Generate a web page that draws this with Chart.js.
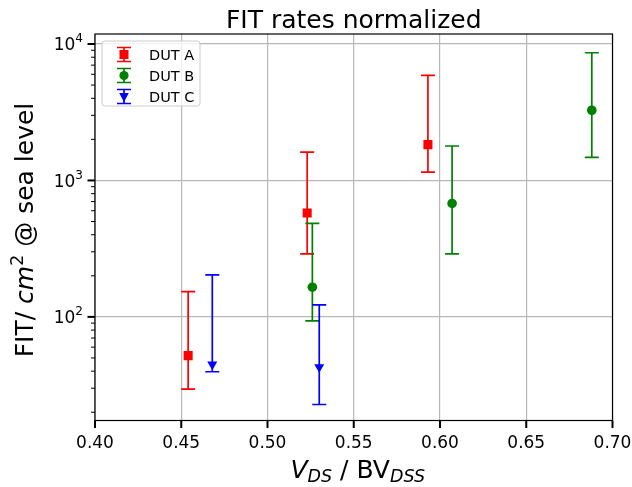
<!DOCTYPE html>
<html>
<head>
<meta charset="utf-8">
<script src="https://cdn.jsdelivr.net/npm/chart.js@4/dist/chart.umd.min.js"></script>
<style>
  html, body { margin: 0; padding: 0; background: #fff; }
  #wrap { width: 632px; height: 487px; position: relative; }
</style>
</head>
<body>
<div id="wrap"><canvas id="myChart" width="632" height="487"></canvas></div>
<script>
// data
const labels = ['DUT A', 'DUT B', 'DUT C'];
const colors = ['#ff0000', '#008000', '#0000ff'];

const xA = [0.454, 0.523, 0.593];
const yA = [52, 578, 1830];
const loA = [29.5, 290, 1150];
const hiA = [153, 1615, 5890];

const xB = [0.526, 0.607, 0.688];
const yB = [165, 678, 3270];
const loB = [93.5, 290, 1475];
const hiB = [485, 1788, 8630];

const xC = [0.468, 0.530];
const yC = [44.9, 42.9];
const loC = [39.6, 22.8];
const hiC = [203, 122.5];

const xTicks = [0.40, 0.45, 0.50, 0.55, 0.60, 0.65, 0.70];
const xTickLabels = ['0.40', '0.45', '0.50', '0.55', '0.60', '0.65', '0.70'];
const yMajor = [100, 1000, 10000];
const yExp = ['2', '3', '4'];

const FONT = '"DejaVu Sans", sans-serif';

function points(xs, ys) {
    return xs.map((x, i) => ({ x: x, y: ys[i] }));
}

// draw a list of text runs, each with its own font and vertical shift
function drawRuns(ctx, runs, x, y, align) {
    let total = 0;
    runs.forEach(r => { ctx.font = r.font; total += ctx.measureText(r.t).width; });
    let cx = align === 'center' ? x - total / 2 : (align === 'right' ? x - total : x);
    ctx.textAlign = 'left';
    ctx.textBaseline = 'alphabetic';
    runs.forEach(r => {
        ctx.font = r.font;
        ctx.fillText(r.t, cx, y + (r.dy || 0));
        cx += ctx.measureText(r.t).width;
    });
}

function drawMarker(ctx, style, x, y, color) {
    ctx.save();
    ctx.fillStyle = color;
    ctx.beginPath();
    if (style === 'rect') {
        ctx.rect(x - 4.5, y - 4.5, 9, 9);
    } else if (style === 'circle') {
        ctx.arc(x, y, 4.6, 0, Math.PI * 2);
    } else {
        ctx.moveTo(x - 4.8, y - 3.5);
        ctx.lineTo(x + 4.8, y - 3.5);
        ctx.lineTo(x, y + 5.5);
        ctx.closePath();
    }
    ctx.fill();
    ctx.restore();
}

const errLow = [loA, loB, loC];
const errHigh = [hiA, hiB, hiC];

const errorBars = {
    id: 'errorBars',
    beforeDatasetsDraw(chart) {
        const ctx = chart.ctx;
        const xs = chart.scales.x, ys = chart.scales.y;
        ctx.save();
        chart.data.datasets.forEach((ds, i) => {
            ctx.strokeStyle = colors[i];
            ctx.lineWidth = 1.7;
            ds.data.forEach((p, j) => {
                const px = xs.getPixelForValue(p.x);
                const top = ys.getPixelForValue(errHigh[i][j]);
                const bot = ys.getPixelForValue(errLow[i][j]);
                ctx.beginPath();
                ctx.moveTo(px, top); ctx.lineTo(px, bot);
                ctx.moveTo(px - 7, top); ctx.lineTo(px + 7, top);
                ctx.moveTo(px - 7, bot); ctx.lineTo(px + 7, bot);
                ctx.stroke();
            });
        });
        ctx.restore();
    }
};

const decorations = {
    id: 'decorations',
    afterDraw(chart) {
        const ctx = chart.ctx;
        const area = chart.chartArea;
        const xs = chart.scales.x, ys = chart.scales.y;
        ctx.save();

        // frame
        ctx.strokeStyle = '#000';
        ctx.lineWidth = 1.2;
        ctx.strokeRect(area.left, area.top, area.right - area.left, area.bottom - area.top);

        // x ticks and labels
        ctx.lineWidth = 2;
        ctx.fillStyle = '#000';
        xTicks.forEach((v, i) => {
            const px = xs.getPixelForValue(v);
            ctx.beginPath();
            ctx.moveTo(px, area.bottom); ctx.lineTo(px, area.bottom + 7.5);
            ctx.stroke();
            drawRuns(ctx, [{ t: xTickLabels[i], font: '17px ' + FONT }], px, 447.5, 'center');
        });

        // y major and minor ticks
        for (let e = 1; e <= 4; e++) {
            for (let k = 1; k <= 9; k++) {
                const v = k * Math.pow(10, e);
                if (v < ys.min || v > ys.max) continue;
                const py = ys.getPixelForValue(v);
                ctx.lineWidth = k === 1 ? 2 : 1;
                ctx.beginPath();
                ctx.moveTo(area.left, py);
                ctx.lineTo(area.left - (k === 1 ? 7.5 : 4), py);
                ctx.stroke();
            }
        }

        // y tick labels 10^n
        yMajor.forEach((v, i) => {
            const py = ys.getPixelForValue(v);
            drawRuns(ctx, [
                { t: '10', font: '17px ' + FONT },
                { t: yExp[i], font: '12px ' + FONT, dy: -8 }
            ], area.left - 12, py + 6.2, 'right');
        });

        // title
        drawRuns(ctx, [{ t: 'FIT rates normalized', font: '25px ' + FONT }],
            (area.left + area.right) / 2, 28.3, 'center');

        // x label
        drawRuns(ctx, [
            { t: 'V', font: 'oblique 25px ' + FONT },
            { t: 'DS', font: 'oblique 17.5px ' + FONT, dy: 4 },
            { t: ' / BV', font: '25px ' + FONT },
            { t: 'DSS', font: 'oblique 17.5px ' + FONT, dy: 4 }
        ], (area.left + area.right) / 2 + 4, 478, 'center');

        // y label, rotated
        ctx.save();
        ctx.translate(33, 230);
        ctx.rotate(-Math.PI / 2);
        drawRuns(ctx, [
            { t: 'FIT/ ', font: '25px ' + FONT },
            { t: 'cm', font: 'oblique 25px ' + FONT },
            { t: '2', font: '17.5px ' + FONT, dy: -10 },
            { t: ' @ sea level', font: '25px ' + FONT }
        ], 0, 0, 'center');
        ctx.restore();

        // legend
        const lx = 102, ly = 41, lw = 98, lh = 65;
        ctx.beginPath();
        ctx.roundRect(lx, ly, lw, lh, 3);
        ctx.fillStyle = 'rgba(255,255,255,0.8)';
        ctx.fill();
        ctx.strokeStyle = '#cccccc';
        ctx.lineWidth = 1;
        ctx.stroke();
        const styles = ['rect', 'circle', 'triangle'];
        labels.forEach((name, i) => {
            const cy = 54.5 + i * 21;
            const mx = 124;
            ctx.strokeStyle = colors[i];
            ctx.lineWidth = 1.7;
            ctx.beginPath();
            ctx.moveTo(mx, cy - 7); ctx.lineTo(mx, cy + 7);
            ctx.moveTo(mx - 7, cy - 7); ctx.lineTo(mx + 7, cy - 7);
            ctx.moveTo(mx - 7, cy + 7); ctx.lineTo(mx + 7, cy + 7);
            ctx.stroke();
            drawMarker(ctx, styles[i], mx, cy, colors[i]);
            ctx.fillStyle = '#000';
            drawRuns(ctx, [{ t: name, font: '14.5px ' + FONT }], 149, cy + 5.3, 'left');
        });

        ctx.restore();
    }
};

new Chart(document.getElementById('myChart'), {
    type: 'scatter',
    data: {
        datasets: [
            {
                label: labels[0],
                data: points(xA, yA),
                backgroundColor: colors[0],
                borderColor: colors[0],
                pointStyle: 'rect',
                pointRadius: 6.4,
                borderWidth: 0
            },
            {
                label: labels[1],
                data: points(xB, yB),
                backgroundColor: colors[1],
                borderColor: colors[1],
                pointStyle: 'circle',
                pointRadius: 4.8,
                borderWidth: 0
            },
            {
                label: labels[2],
                data: points(xC, yC),
                backgroundColor: colors[2],
                borderColor: colors[2],
                pointStyle: 'triangle',
                pointRotation: 180,
                pointRadius: 5.8,
                borderWidth: 0
            }
        ]
    },
    options: {
        responsive: false,
        animation: false,
        events: [],
        layout: { padding: { top: 34, right: 19.5, left: 0, bottom: 0 } },
        scales: {
            x: {
                type: 'linear',
                min: 0.4,
                max: 0.7,
                afterFit: scale => { scale.height = 66.5; },
                afterBuildTicks: scale => { scale.ticks = xTicks.map(v => ({ value: v })); },
                ticks: { display: false },
                grid: { color: '#b8b8b8', lineWidth: 1.2, drawTicks: false },
                border: { display: false }
            },
            y: {
                type: 'logarithmic',
                min: 17.4,
                max: 11840,
                afterFit: scale => { scale.width = 95; },
                afterBuildTicks: scale => { scale.ticks = yMajor.map(v => ({ value: v })); },
                ticks: { display: false },
                grid: { color: '#b8b8b8', lineWidth: 1.2, drawTicks: false },
                border: { display: false }
            }
        },
        plugins: {
            legend: { display: false },
            tooltip: { enabled: false }
        }
    },
    plugins: [errorBars, decorations]
});
</script>
</body>
</html>
